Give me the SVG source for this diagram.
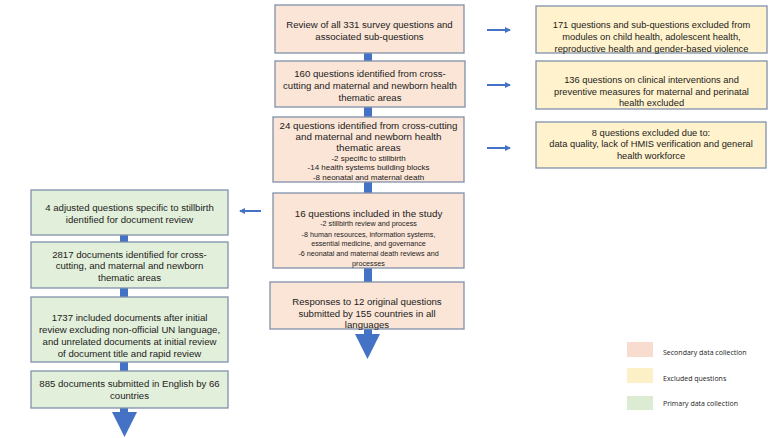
<svg xmlns="http://www.w3.org/2000/svg" width="779" height="438" viewBox="0 0 779 438">
<defs>
<style>
text{font-family:"Liberation Sans",Arial,sans-serif;fill:#222;text-anchor:middle}
.m{font-size:9.6px}
.r{font-size:9.3px}
.l{font-size:9.8px}
.s{font-size:8px}
.t{font-size:7.2px}
.sec{fill:#fbe5d6;stroke:#8091ab;stroke-width:1.3}
.exc{fill:#fff2cc;stroke:#8091ab;stroke-width:1.3}
.pri{fill:#e2efda;stroke:#8091ab;stroke-width:1.3}
.bar{fill:#4472c4}
.arr{stroke:#4472c4;stroke-width:2;fill:none;marker-end:url(#ah)}
.lg{font-family:"Open Sans","Liberation Sans",sans-serif;font-size:7px;text-anchor:start}
</style>
<marker id="ah" markerWidth="6" markerHeight="6" refX="5" refY="3" orient="auto" markerUnits="userSpaceOnUse">
<path d="M0,0 L6,3 L0,6 z" fill="#4472c4"/>
</marker>
</defs>
<rect width="779" height="438" fill="#fff"/>
<g id="connectors">
<rect class="bar" x="364" y="53" width="8" height="8"/>
<rect class="bar" x="364" y="107" width="8" height="10"/>
<rect class="bar" x="364" y="182" width="8" height="11"/>
<rect class="bar" x="364" y="268" width="8" height="14"/>
<rect class="bar" x="364" y="329" width="8" height="6"/>
<polygon class="bar" points="355,334 380,334 367.5,359"/>
<rect class="bar" x="120" y="235" width="8" height="7"/>
<rect class="bar" x="120" y="288" width="8" height="9"/>
<rect class="bar" x="120" y="362" width="8" height="9"/>
<rect class="bar" x="120" y="408" width="8" height="5"/>
<polygon class="bar" points="112,412 137,412 124.5,437"/>
<path class="arr" d="M487,30 H510"/>
<path class="arr" d="M487,85 H510"/>
<path class="arr" d="M487,148 H510"/>
<path class="arr" d="M261,211 H240"/>
</g>
<g id="n1">
<rect class="sec" x="275" y="5" width="189" height="48"/>
<text class="m" x="369.5" y="28">Review of all 331 survey questions and</text>
<text class="m" x="369.5" y="40">associated sub-questions</text>
</g>
<g id="n2">
<rect class="sec" x="275" y="61" width="190" height="46"/>
<text class="m" x="370" y="77">160 questions identified from cross-</text>
<text class="m" x="370" y="89">cutting and maternal and newborn health</text>
<text class="m" x="370" y="101">thematic areas</text>
</g>
<g id="n3">
<rect class="sec" x="273" y="117" width="191" height="65"/>
<text class="l" x="368.5" y="129">24 questions identified from cross-cutting</text>
<text class="l" x="368.5" y="140">and maternal and newborn health</text>
<text class="l" x="368.5" y="151">thematic areas</text>
<text class="s" x="368.5" y="160.5">-2 specific to stillbirth</text>
<text class="s" x="368.5" y="170">-14 health systems building blocks</text>
<text class="s" x="368.5" y="179.5">-8 neonatal and maternal death</text>
</g>
<g id="n4">
<rect class="sec" x="273" y="193" width="191" height="75"/>
<text class="l" x="368.5" y="216.5">16 questions included in the study</text>
<text class="t" x="368.5" y="226">-2 stillbirth review and process</text>
<text class="t" x="368.5" y="236.5">-8 human resources, information systems,</text>
<text class="t" x="368.5" y="246">essential medicine, and governance</text>
<text class="t" x="368.5" y="256">-6 neonatal and maternal death reviews and</text>
<text class="t" x="368.5" y="265.5">processes</text>
</g>
<g id="n5">
<rect class="sec" x="270" y="282" width="194" height="47"/>
<text class="m" x="367" y="304.5">Responses to 12 original questions</text>
<text class="m" x="367" y="316.5">submitted by 155 countries in all</text>
<text class="m" x="367" y="327.5">languages</text>
</g>
<g id="r1">
<rect class="exc" x="536" y="6" width="231" height="47"/>
<text class="r" x="651.5" y="28">171 questions and sub-questions excluded from</text>
<text class="r" x="651.5" y="40">modules on child health, adolescent health,</text>
<text class="r" x="651.5" y="51.5">reproductive health and gender-based violence</text>
</g>
<g id="r2">
<rect class="exc" x="536" y="61" width="231" height="48"/>
<text class="r" x="651.5" y="83">136 questions on clinical interventions and</text>
<text class="r" x="651.5" y="94.5">preventive measures for maternal and perinatal</text>
<text class="r" x="651.5" y="106">health excluded</text>
</g>
<g id="r3">
<rect class="exc" x="536" y="122" width="230" height="46"/>
<text class="r" x="651" y="135.5">8 questions excluded due to:</text>
<text class="r" x="651" y="147">data quality, lack of HMIS verification and general</text>
<text class="r" x="651" y="158.5">health workforce</text>
</g>
<g id="p1">
<rect class="pri" x="31" y="190" width="197" height="45"/>
<text class="m" x="129.5" y="211">4 adjusted questions specific to stillbirth</text>
<text class="m" x="129.5" y="223">identified for document review</text>
</g>
<g id="p2">
<rect class="pri" x="31" y="242" width="197" height="46"/>
<text class="m" x="129.5" y="257.5">2817 documents identified for cross-</text>
<text class="m" x="129.5" y="269">cutting, and maternal and newborn</text>
<text class="m" x="129.5" y="281">thematic areas</text>
</g>
<g id="p3">
<rect class="pri" x="31" y="297" width="197" height="65"/>
<text class="m" x="129.5" y="320.5">1737 included documents after initial</text>
<text class="m" x="129.5" y="333">review excluding non-official UN language,</text>
<text class="m" x="129.5" y="345">and unrelated documents at initial review</text>
<text class="m" x="129.5" y="357">of document title and rapid review</text>
</g>
<g id="p4">
<rect class="pri" x="31" y="371" width="197" height="37"/>
<text class="m" x="129.5" y="386.5">885 documents submitted in English by 66</text>
<text class="m" x="129.5" y="398.5">countries</text>
</g>
<g id="legend">
<rect x="627" y="342" width="26" height="15" fill="#f8dccf"/>
<rect x="627" y="368" width="26" height="15" fill="#fdefc6"/>
<rect x="627" y="396" width="26" height="14" fill="#dcecd3"/>
<text class="lg" x="663" y="355">Secondary data collection</text>
<text class="lg" x="663" y="381">Excluded questions</text>
<text class="lg" x="663" y="406">Primary data collection</text>
</g>
</svg>
